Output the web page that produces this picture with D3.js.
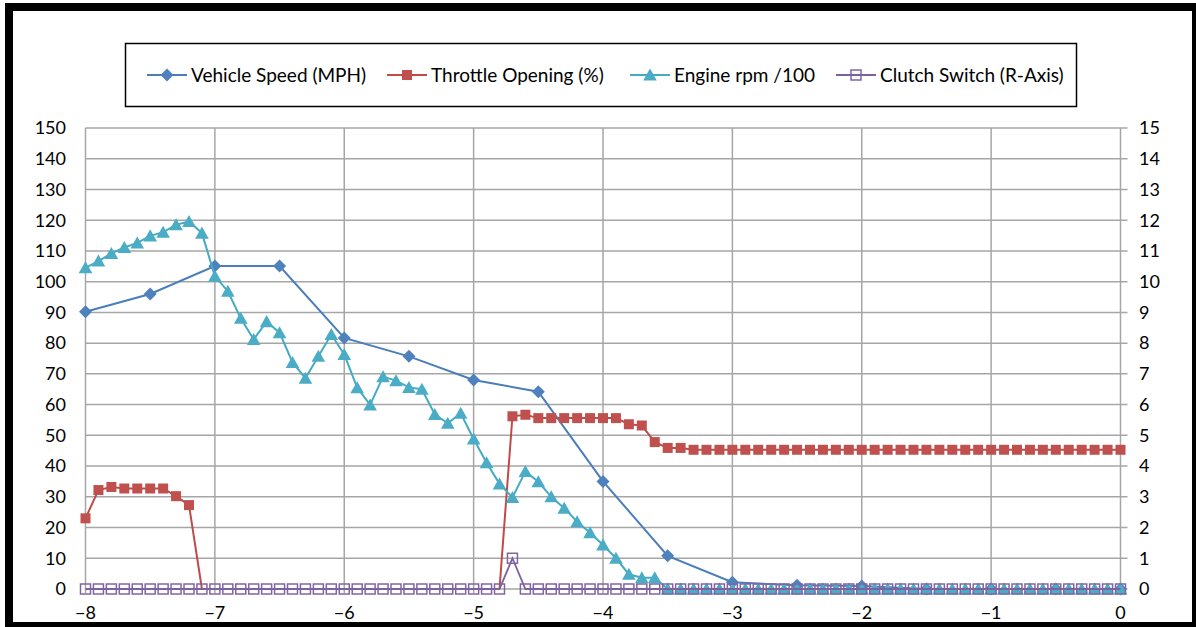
<!DOCTYPE html>
<html><head><meta charset="utf-8">
<script src="https://cdn.jsdelivr.net/npm/d3@7"></script>
<style>
body{margin:0;background:#fff}
svg{display:block}
text{font-family:Lato,"Open Sans",sans-serif;fill:#000}
</style>
</head><body>
<svg id="c" width="1196" height="627"></svg>
<script>
// ---------- data ----------
const xTickValues = [-8,-7,-6,-5,-4,-3,-2,-1,0];
const xTickLabels = ["\u22128","\u22127","\u22126","\u22125","\u22124","\u22123","\u22122","\u22121","0"];
const yLeftTicks = [0,10,20,30,40,50,60,70,80,90,100,110,120,130,140,150];
const yRightTicks = [0,1,2,3,4,5,6,7,8,9,10,11,12,13,14,15];
const seriesNames = ["Vehicle Speed (MPH)","Throttle Opening (%)","Engine rpm /100","Clutch Switch (R-Axis)"];

// 0.1 s sampling from -8 to 0
const time = d3.range(81).map(i => Math.round((i - 80)) / 10);

// vehicle speed sampled every 0.5 s
const speedTime = [-8,-7.5,-7,-6.5,-6,-5.5,-5,-4.5,-4,-3.5,-3,-2.5,-2,-1.5,-1,-0.5,0];
const speedValues = [90.2,96.0,105.1,105.1,81.7,75.7,68.0,64.2,35.0,10.8,2.2,1.2,1.0,0,0,0,0];

const throttleValues = [
  23.0,32.2,33.2,32.7,32.7,32.7,32.7,30.2,27.3,0,
  null,null,null,null,null,null,null,null,null,null,
  null,null,null,null,null,null,null,null,null,null,
  null,null,0,56.2,56.7,55.6,55.6,55.6,55.6,55.6,
  55.6,55.6,53.6,53.2,47.8,45.9,45.9,45.3,45.3,45.3,
  45.3,45.3,45.3,45.3,45.3,45.3,45.3,45.3,45.3,45.3,
  45.3,45.3,45.3,45.3,45.3,45.3,45.3,45.3,45.3,45.3,
  45.3,45.3,45.3,45.3,45.3,45.3,45.3,45.3,45.3,45.3,
  45.3
];

const engineValues = [
  104.5,106.7,109.2,111.1,112.6,114.9,116.1,118.5,119.6,115.8,
  101.8,96.9,88.1,81.2,87.0,83.4,73.7,68.6,75.7,82.8,
  76.3,65.5,59.9,69.1,67.8,65.6,65.0,56.8,53.9,57.2,
  48.8,41.1,34.2,29.8,38.2,34.9,30.0,26.3,21.9,18.3,
  14.3,10.0,4.8,3.7,3.7,0,0,0,0,0,
  0,0,0,0,0,0,0,0,0,0,
  0,0,0,0,0,0,0,0,0,0,
  0,0,0,0,0,0,0,0,0,0,
  0
];

const clutchValues = [
  0,0,0,0,0,0,0,0,0,0,
  0,0,0,0,0,0,0,0,0,0,
  0,0,0,0,0,0,0,0,0,0,
  0,0,0,1,0,0,0,0,0,0,
  0,0,0,0,0,0,0,0,0,0,
  0,0,0,0,0,0,0,0,0,0,
  0,0,0,0,0,0,0,0,0,0,
  0,0,0,0,0,0,0,0,0,0,
  0
];

// ---------- styles ----------
const C = {
  speed:{line:"#4A7EBB", mark:"#4F81BD"},
  thr:{line:"#BE4B48", mark:"#C0504D"},
  eng:{line:"#46AAC5", mark:"#4BACC6"},
  clu:{line:"#7D60A0", mark:"#8064A2"}
};
const gridColor = "#A6A6A6";

const svg = d3.select("#c");
svg.append("rect").attr("width",1196).attr("height",627).attr("fill","#fff");

const x = d3.scaleLinear().domain([-8,0]).range([85.5,1120.5]);
const yL = d3.scaleLinear().domain([0,150]).range([589,128]);
const yR = d3.scaleLinear().domain([0,15]).range([589,128]);

// gridlines
const g = svg.append("g");
g.selectAll("line.h").data(yLeftTicks).join("line")
  .attr("x1",x(-8)).attr("x2",x(0)+7)
  .attr("y1",d=>yL(d)).attr("y2",d=>yL(d))
  .attr("stroke",gridColor).attr("stroke-width",1.5);
g.selectAll("line.v").data(xTickValues).join("line")
  .attr("x1",d=>x(d)).attr("x2",d=>x(d))
  .attr("y1",yL(150)).attr("y2",yL(0)+4)
  .attr("stroke",gridColor).attr("stroke-width",1.5);

// axis labels
const fs = 18;
svg.append("g").selectAll("text").data(yLeftTicks).join("text")
  .attr("x",66).attr("y",d=>yL(d)).attr("dy","0.35em")
  .attr("text-anchor","end").attr("font-size",fs).text(d=>d);
svg.append("g").selectAll("text").data(yRightTicks).join("text")
  .attr("x",1139).attr("y",d=>yR(d)).attr("dy","0.35em")
  .attr("text-anchor","start").attr("font-size",fs).text(d=>d);
svg.append("g").selectAll("text").data(xTickValues).join("text")
  .attr("x",d=>x(d)).attr("y",613).attr("dy","0.35em")
  .attr("text-anchor","middle").attr("font-size",fs).text((d,i)=>xTickLabels[i]);

// marker shapes
const diamond = s => `M0,${-s}L${s},0L0,${s}L${-s},0Z`;
const triangle = s => `M0,${-s}L${s*1.05},${s*0.85}L${-s*1.05},${s*0.85}Z`;

const line = d3.line().defined(d=>d[1]!=null).x(d=>x(d[0]));

// vehicle speed
const speedData = speedTime.map((t,i)=>[t,speedValues[i]]);
svg.append("path").datum(speedData)
  .attr("d", line.y(d=>yL(d[1])))
  .attr("fill","none").attr("stroke",C.speed.line).attr("stroke-width",2);
svg.append("g").selectAll("path").data(speedData).join("path")
  .attr("transform",d=>`translate(${x(d[0])},${yL(d[1])})`)
  .attr("d",diamond(6.5)).attr("fill",C.speed.mark);

// throttle
const thrData = time.map((t,i)=>[t,throttleValues[i]]);
svg.append("path").datum(thrData)
  .attr("d", line.y(d=>yL(d[1])))
  .attr("fill","none").attr("stroke",C.thr.line).attr("stroke-width",2);
svg.append("g").selectAll("rect").data(thrData.filter(d=>d[1]!=null && d[1]>0)).join("rect")
  .attr("x",d=>x(d[0])-5).attr("y",d=>yL(d[1])-5)
  .attr("width",10).attr("height",10).attr("fill",C.thr.mark);

// engine rpm
const engData = time.map((t,i)=>[t,engineValues[i]]);
svg.append("path").datum(engData)
  .attr("d", line.y(d=>yL(d[1])))
  .attr("fill","none").attr("stroke",C.eng.line).attr("stroke-width",2);
svg.append("g").selectAll("path").data(engData).join("path")
  .attr("transform",d=>`translate(${x(d[0])},${yL(d[1])})`)
  .attr("d",triangle(6.5)).attr("fill",C.eng.mark);

// clutch (right axis)
const cluData = time.map((t,i)=>[t,clutchValues[i]]);
svg.append("path").datum(cluData)
  .attr("d", line.y(d=>yR(d[1])))
  .attr("fill","none").attr("stroke",C.clu.line).attr("stroke-width",1.8);
svg.append("g").selectAll("rect").data(cluData).join("rect")
  .attr("x",d=>x(d[0])-5).attr("y",d=>yR(d[1])-5)
  .attr("width",10).attr("height",10)
  .attr("fill","none").attr("stroke",C.clu.mark).attr("stroke-width",1.5);

// legend
const lg = svg.append("g");
lg.append("rect").attr("x",125.5).attr("y",43.5).attr("width",951).attr("height",63)
  .attr("fill","#fff").attr("stroke","#000").attr("stroke-width",1.5);
const legendX = [147,387,630,836];
const keys = ["speed","thr","eng","clu"];
keys.forEach((k,i)=>{
  const lx = legendX[i], ly = 75;
  const it = lg.append("g");
  it.append("line").attr("x1",lx).attr("x2",lx+40).attr("y1",ly).attr("y2",ly)
    .attr("stroke",C[k].line).attr("stroke-width",2);
  const cx = lx+20;
  if(k==="speed") it.append("path").attr("transform",`translate(${cx},${ly})`).attr("d",diamond(6.5)).attr("fill",C[k].mark);
  if(k==="thr") it.append("rect").attr("x",cx-5).attr("y",ly-5).attr("width",10).attr("height",10).attr("fill",C[k].mark);
  if(k==="eng") it.append("path").attr("transform",`translate(${cx},${ly})`).attr("d",triangle(6.5)).attr("fill",C[k].mark);
  if(k==="clu") it.append("rect").attr("x",cx-5).attr("y",ly-5).attr("width",10).attr("height",10).attr("fill","none").attr("stroke",C[k].mark).attr("stroke-width",1.5);
  it.append("text").attr("x",lx+44).attr("y",ly).attr("dy","0.35em")
    .attr("font-size",19).text(seriesNames[i]);
});

// outer frame
svg.append("rect").attr("x",9).attr("y",7).attr("width",1187).attr("height",619)
  .attr("fill","none").attr("stroke","#000").attr("stroke-width",8);
</script>
</body></html>
